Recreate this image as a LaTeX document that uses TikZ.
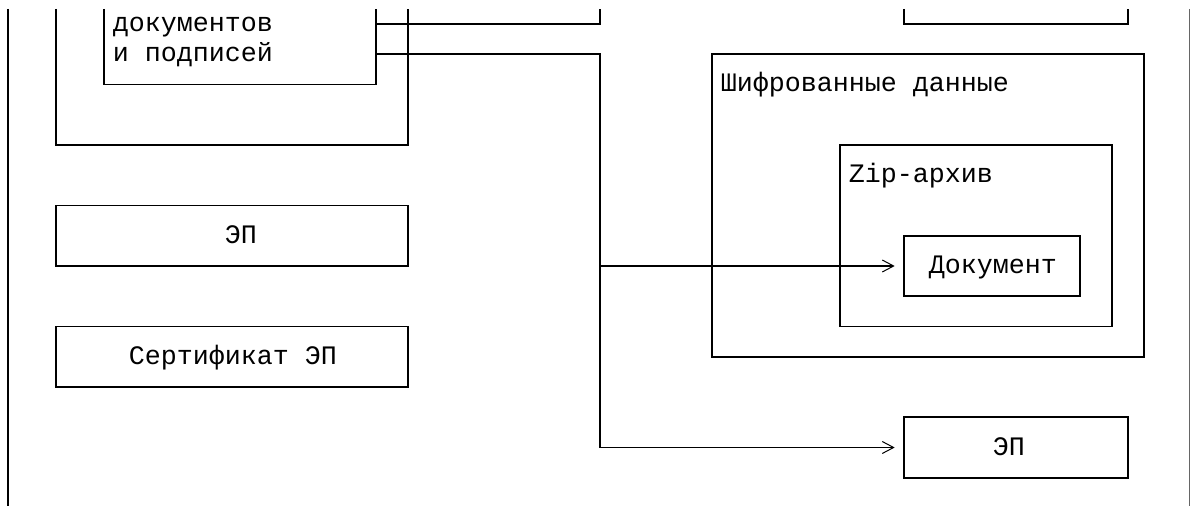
\documentclass[tikz,border=0pt]{standalone}
\usepackage{fontspec}
\setmonofont{Liberation Mono}
\usetikzlibrary{arrows.meta,fit}
\begin{document}
\begin{tikzpicture}[x=0.75pt,y=-0.75pt,
  line width=1.4pt,
  box/.style={draw, rectangle, inner sep=0pt, outer sep=0pt, line width=1.4pt},
  frame/.style={draw, line width=1.4pt},
  txt/.style={font=\ttfamily\fontsize{20}{24}\selectfont, anchor=base west, inner sep=0pt},
  conn/.style={draw, line width=1.4pt},
  arr/.style={conn, -{Straight Barb[length=8.5pt,width=9pt,line width=0.75pt]}, shorten >=7pt}]
\useasboundingbox (0,0) rectangle (1192,506);

% page borders
\coordinate (lt) at (8,9);   \coordinate (lb) at (8,506);
\coordinate (rt) at (1189.5,9); \coordinate (rb) at (1189.5,506);
\draw[frame] (lt) -- (lb);
\draw[frame, line width=1pt, black!60] (rt) -- (rb);

% outer left box (cut at top)
\coordinate (oTL) at (56,9); \coordinate (oTR) at (408,9);
\coordinate (oBL) at (56,145); \coordinate (oBR) at (408,145);
\draw[frame] (oTL) -- (oBL) -- (oBR) -- (oTR);

% inner left box (cut at top)
\coordinate (iTL) at (104,9); \coordinate (iTR) at (376,9);
\coordinate (iBL) at (104,84.5); \coordinate (iBR) at (376,84.5);
\draw[frame] (iTL) -- (iBL) -- (iBR) -- (iTR);
\node[txt] (t1) at (112,31.5) {документов};
\node[txt] (t2) at (112,61.75) {и подписей};

% top right box (cut at top)
\coordinate (rTL) at (904,9); \coordinate (rTR) at (1128,9);
\coordinate (rBL) at (904,24); \coordinate (rBR) at (1128,24);
\draw[frame] (rTL) -- (rBL) -- (rBR) -- (rTR);

% left boxes
\node[box, fit={(56,205.5) (408,266)}] (ep1) {};
\node[txt] (ep1t) at (224,243.25) {ЭП};
\node[box, fit={(56,326.5) (408,387)}] (cert) {};
\node[txt] (certt) at (128,364.25) {Сертификат ЭП};

% encrypted data
\node[box, fit={(712,54.25) (1144,356.75)}] (enc) {};
\node[txt] (enct) at (720,92) {Шифрованные данные};
\node[box, fit={(840,145) (1112,326.5)}] (zip) {};
\node[txt] (zipt) at (848,182.75) {Zip-архив};
\node[box, fit={(904,235.75) (1080,296.25)}] (doc) {};
\node[txt] (doct) at (928,273.5) {Документ};

% right EP box
\node[box, fit={(904,417.25) (1128,477.75)}] (ep2) {};
\node[txt] (ep2t) at (992,455) {ЭП};

% connectors
\coordinate (out0) at (376,24);
\coordinate (out1) at (376,54.25);
\coordinate (up) at (600,9);
\coordinate (bus) at (600,54.25);
\coordinate (j8) at (600,266);
\draw[conn] (out0) -| (up);
\draw[arr] (out1) -- (bus) |- (ep2.west);
\draw[arr] (j8) -- (doc.west);
\end{tikzpicture}
\end{document}
